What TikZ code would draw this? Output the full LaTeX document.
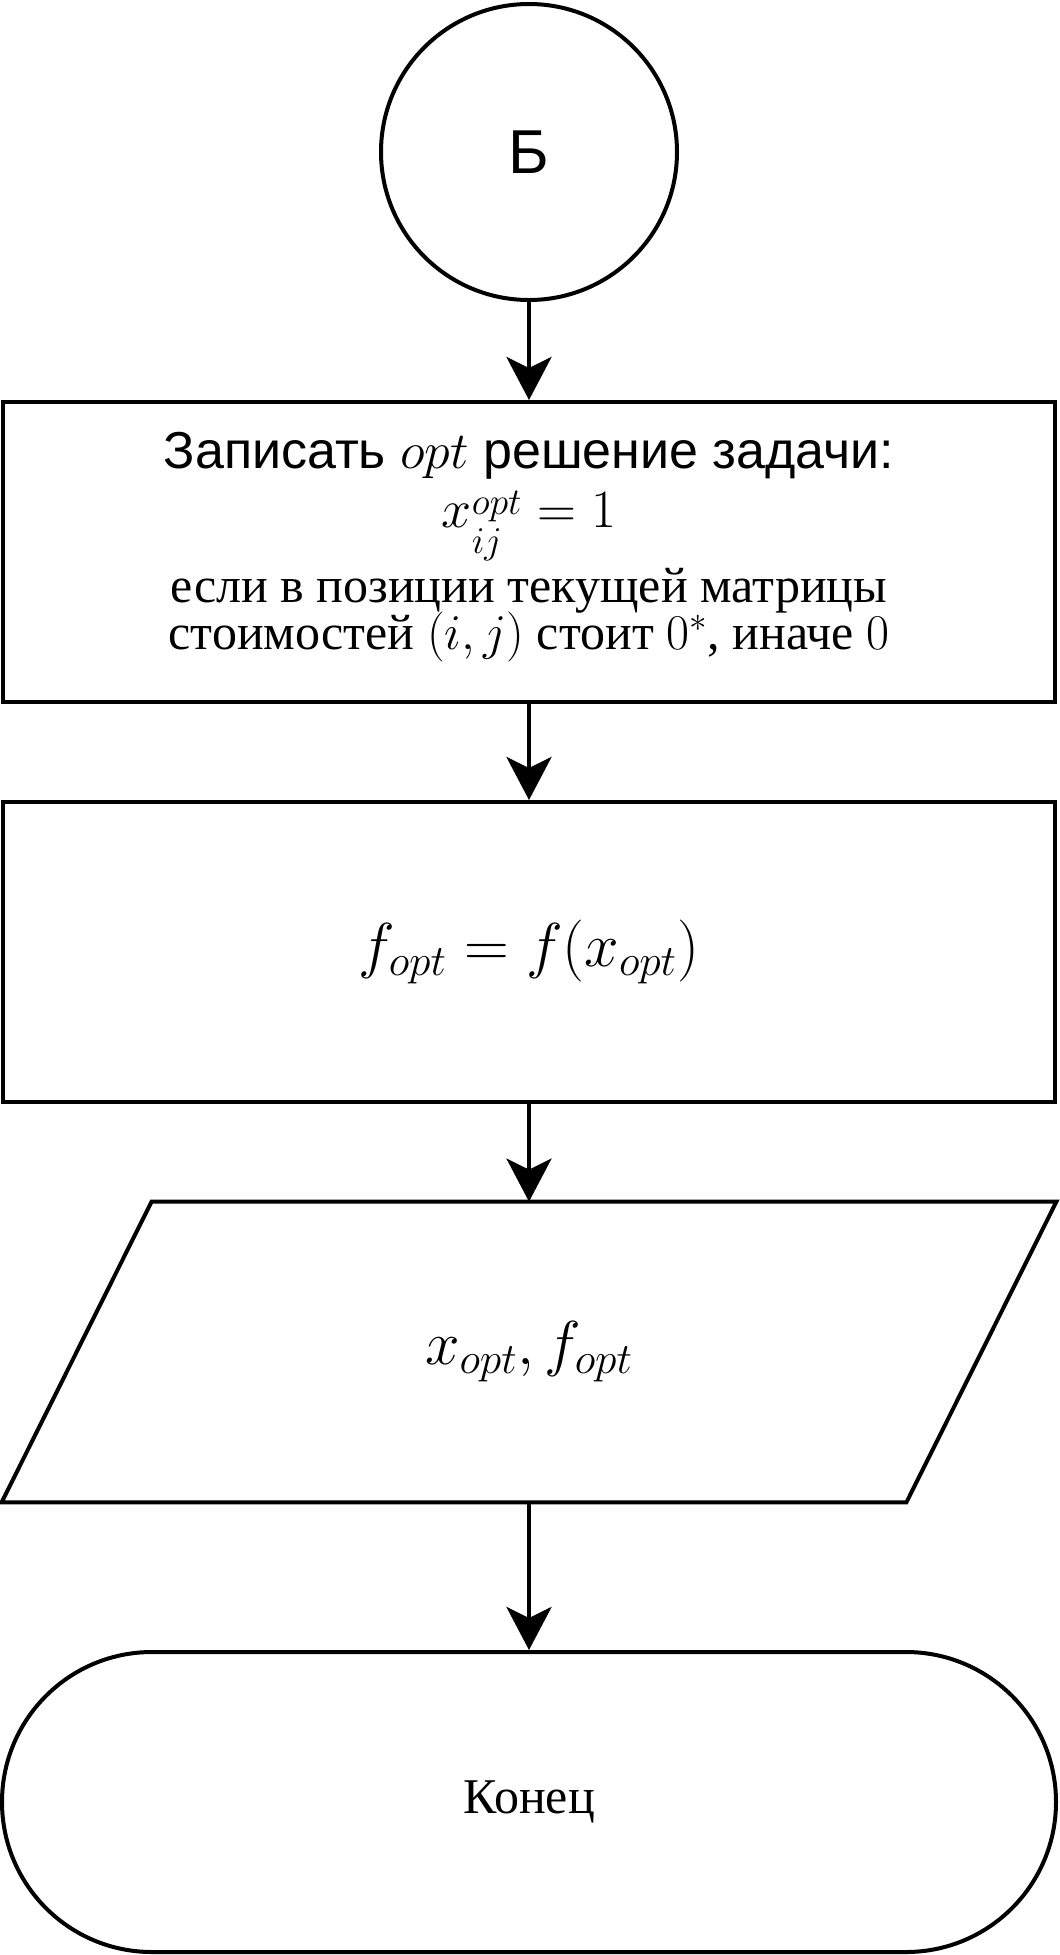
\documentclass[tikz,border=0pt]{standalone}
\usepackage{fix-cm}
\usepackage[no-math]{fontspec}
\setmainfont{Liberation Serif}
\setsansfont{Liberation Sans}
\usetikzlibrary{positioning,shapes.geometric,shapes.misc,arrows.meta}

\begin{document}
\begin{tikzpicture}[x=0.5pt,y=-0.5pt]
\tikzset{C/.style={circle,draw,line width=2pt,minimum size=148pt,inner sep=0pt}}
\tikzset{R/.style={rectangle,draw,line width=2pt,minimum width=526pt,minimum height=150pt,inner sep=0pt,align=center}}
\tikzset{IO/.style={rectangle,minimum width=452pt,minimum height=150pt,inner sep=0pt}}
\tikzset{T/.style={rounded rectangle,draw,line width=2pt,minimum width=527pt,minimum height=150pt,inner sep=0pt}}
\tikzset{A/.style={line width=2pt,-{Stealth[length=21.5pt,width=22.5pt,inset=5.5pt]}}}

  \useasboundingbox (0,0) rectangle (1060,1955);
  \node[C] (b) at (529,152) {\sffamily\fontsize{31}{36}\selectfont Б};
  \node[R,font={\fontsize{25}{23.5}\selectfont\lineskiplimit=-20pt\lineskip=0pt}] (write) at (529,552)
    {{\sffamily\fontsize{26}{23.5}\selectfont Записать $opt$ решение задачи:}\\[5.75pt]
     {\fontsize{27}{23.5}\selectfont$x^{\raisebox{-4.5pt}{$\scriptstyle opt$}}_{\raisebox{-6.5pt}{$\scriptstyle ij$}} = 1$}\\[14pt]
     если в позиции текущей матрицы\\
     стоимостей $(i, j)$ стоит $0^*$, иначе $0$\rule[-11pt]{0pt}{0pt}};
  \node[R,font=\fontsize{31}{36}\selectfont] (fopt) at (529,952) {\raisebox{4pt}{$f_{opt} = f(x_{opt})$}};
  \node[IO,font=\fontsize{31}{36}\selectfont] (out) at (529,1352) {\raisebox{3pt}{$x_{opt}, f_{opt}$}};
  \node[T,font=\fontsize{25}{30}\selectfont] (end) at (529,1802) {Конец};

  % parallelogram round the output node
  \draw[line width=2pt] ([xshift=37.5pt]out.north west) -- ([xshift=37.5pt]out.north east)
    -- ([xshift=-37.5pt]out.south east) -- ([xshift=-37.5pt]out.south west) -- cycle;

  \draw[A] (b) -- (write);
  \draw[A] (write) -- (fopt);
  \draw[A] (fopt) -- (out);
  \draw[A] (out) -- (end);
\end{tikzpicture}
\end{document}
